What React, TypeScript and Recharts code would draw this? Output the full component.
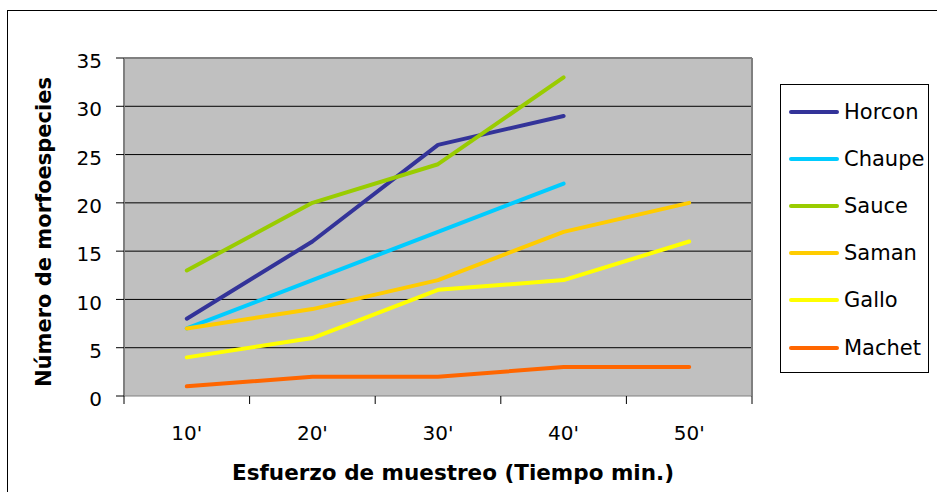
import React from 'react';
import { LineChart, Line, XAxis, YAxis, CartesianGrid } from 'recharts';

const categories = ["10'", "20'", "30'", "40'", "50'"];
const horcon = [8, 16, 26, 29, null];
const chaupe = [7, 12, 17, 22, null];
const sauce = [13, 20, 24, 33, null];
const saman = [7, 9, 12, 17, 20];
const gallo = [4, 6, 11, 12, 16];
const machet = [1, 2, 2, 3, 3];
const yTicks = [0, 5, 10, 15, 20, 25, 30, 35];
const gridValues = [5, 10, 15, 20, 25, 30];
const seriesNames = ['Horcon', 'Chaupe', 'Sauce', 'Saman', 'Gallo', 'Machet'];
const seriesColors = ['#333399', '#00CCFF', '#99CC00', '#FFCC00', '#FFFF00', '#FF6600'];
const seriesValues = [horcon, chaupe, sauce, saman, gallo, machet];

const data = categories.map((c, i) => {
  const row: any = { cat: c };
  seriesNames.forEach((n, k) => {
    row[n] = seriesValues[k][i];
  });
  return row;
});

const FONT = '"DejaVu Sans", Verdana, sans-serif';
const PLOT_W = 628;
const HALF_BAND = PLOT_W / categories.length / 2;

const XTick = (props: any) => {
  const { x, y, payload, index, visibleTicksCount } = props;
  const last = index === visibleTicksCount - 1;
  return (
    <g>
      <line x1={x - HALF_BAND} x2={x - HALF_BAND} y1={y} y2={y + 8} stroke="#000" strokeWidth={1} />
      {last && <line x1={x + HALF_BAND} x2={x + HALF_BAND} y1={y} y2={y + 8} stroke="#000" strokeWidth={1} />}
      <text x={x} y={y + 44} textAnchor="middle" fontSize={20} fontFamily={FONT} fill="#000">
        {payload.value}
      </text>
    </g>
  );
};

const YTitle = (props: any) => {
  const vb = props.viewBox || {};
  const cx = vb.x - 10;
  const cy = vb.y + vb.height / 2 + 5;
  return (
    <text
      x={cx}
      y={cy}
      transform={`rotate(-90, ${cx}, ${cy})`}
      textAnchor="middle"
      dominantBaseline="central"
      fontSize={21}
      fontWeight="bold"
      fontFamily={FONT}
      fill="#000"
    >
      Número de morfoespecies
    </text>
  );
};

const XTitle = (props: any) => {
  const vb = props.viewBox || {};
  const cx = vb.x + vb.width / 2 + 15;
  const cy = vb.y + 84;
  return (
    <text x={cx} y={cy} textAnchor="middle" fontSize={21.5} fontWeight="bold" fontFamily={FONT} fill="#000">
      Esfuerzo de muestreo (Tiempo min.)
    </text>
  );
};

const LegendBox = () => (
  <div
    style={{
      position: 'absolute',
      left: 780,
      top: 84,
      boxSizing: 'border-box',
      width: 149,
      height: 289,
      border: '1px solid #000',
      background: '#fff',
      paddingTop: 3,
      fontFamily: FONT,
      fontSize: 21,
    }}
  >
    {seriesNames.map((n, k) => (
      <div key={n} style={{ display: 'flex', alignItems: 'center', height: 47.2, whiteSpace: 'nowrap' }}>
        <div style={{ marginLeft: 8, width: 50, height: 4, borderRadius: 2, background: seriesColors[k] }} />
        <span style={{ marginLeft: 5, color: '#000' }}>{n}</span>
      </div>
    ))}
  </div>
);

export default function App() {
  return (
    <div style={{ position: 'absolute', left: 0, top: 0, width: 937, height: 492, overflow: 'hidden', background: '#fff' }}>
      <div
        style={{
          position: 'absolute',
          left: 7,
          top: 10,
          width: 1000,
          height: 1000,
          borderLeft: '1px solid #000',
          borderTop: '1px solid #000',
        }}
      />
      <div style={{ position: 'absolute', left: 0, top: 0 }}>
        <LineChart width={937} height={492} data={data} margin={{ top: 58, right: 185, bottom: 6, left: 54 }}>
          <CartesianGrid horizontal vertical={false} horizontalValues={gridValues} stroke="#000" strokeWidth={1} fill="#C0C0C0" />
          <CartesianGrid
            horizontal
            vertical
            stroke="#808080"
            strokeWidth={2}
            horizontalCoordinatesGenerator={(p: any) => [p.offset.top]}
            verticalCoordinatesGenerator={(p: any) => [p.offset.left + p.offset.width]}
          />
          <XAxis
            dataKey="cat"
            height={90}
            padding={{ left: HALF_BAND, right: HALF_BAND }}
            tickLine={false}
            tickSize={0}
            tickMargin={0}
            interval={0}
            axisLine={{ stroke: '#808080', strokeWidth: 1 }}
            tick={<XTick />}
            label={<XTitle />}
          />
          <YAxis
            width={70}
            domain={[0, 35]}
            ticks={yTicks}
            interval={0}
            tickSize={8}
            tickMargin={14}
            tickLine={{ stroke: '#000' }}
            axisLine={{ stroke: '#808080', strokeWidth: 2 }}
            tick={{ fontSize: 20, fill: '#000', fontFamily: FONT, dy: 3 }}
            label={<YTitle />}
          />
          {seriesNames.map((n, k) => (
            <Line
              key={n}
              dataKey={n}
              name={n}
              stroke={seriesColors[k]}
              strokeWidth={4}
              strokeLinecap="round"
              strokeLinejoin="round"
              dot={false}
              activeDot={false}
              isAnimationActive={false}
              type="linear"
            />
          ))}
        </LineChart>
      </div>
      <LegendBox />
    </div>
  );
}
